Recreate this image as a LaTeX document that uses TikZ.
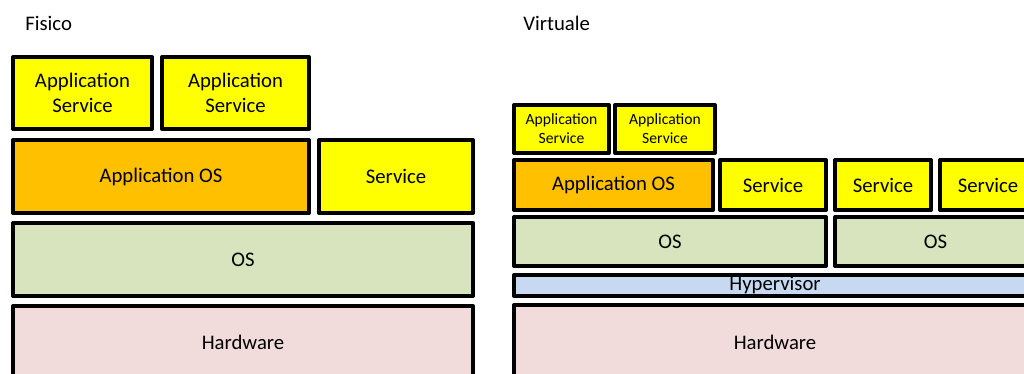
\documentclass[tikz,border=0pt]{standalone}
\usepackage{fontspec}
\setmainfont{Carlito}
\usepackage{tikz}

\definecolor{giallo}{HTML}{FFFF00}
\definecolor{arancio}{HTML}{FFC000}
\definecolor{verdeos}{HTML}{D7E4BD}
\definecolor{rosahw}{HTML}{F2DCDB}
\definecolor{azzurro}{HTML}{C6D9F1}

\begin{document}
\begin{tikzpicture}[x=0.02cm, y=-0.02cm,
  blocco/.style={draw=black, line width=2.3pt, line join=round, inner sep=0pt,
    align=center, font=\fontsize{11.8}{14.2}\selectfont},
  piccolo/.style={blocco, font=\fontsize{8.9}{10.8}\selectfont},
  titolo/.style={anchor=base west, inner sep=0pt, font=\fontsize{11.8}{14.2}\selectfont}]
\useasboundingbox (0,0) rectangle (1024,373);
\clip (0,0) rectangle (1024,373);

% Fisico
\node[titolo] (fisico) at (25,30) {Fisico};
\node[blocco, fill=giallo, minimum width=2.78cm, minimum height=1.44cm] (as1) at (82.5,93) {Application\\Service};
\node[blocco, fill=giallo, minimum width=2.94cm, minimum height=1.44cm] (as2) at (235.5,93) {Application\\Service};
\node[blocco, fill=arancio, minimum width=5.92cm, minimum height=1.46cm] (appos) at (161,176.5) {Application OS};
\node[blocco, fill=giallo, minimum width=3.08cm, minimum height=1.46cm] (srv) at (396,176.5) {Service};
\node[blocco, fill=verdeos, minimum width=9.2cm, minimum height=1.46cm] (os) at (243,259.5) {OS};
\node[blocco, fill=rosahw, minimum width=9.2cm, minimum height=1.46cm] (hw) at (243,342.5) {Hardware};

% Virtuale
\node[titolo] (virtuale) at (523,30) {Virtuale};
\node[piccolo, fill=giallo, minimum width=1.9cm, minimum height=0.96cm] (vas1) at (561.5,129) {Application\\Service};
\node[piccolo, fill=giallo, minimum width=2.0cm, minimum height=0.96cm] (vas2) at (665,129) {Application\\Service};
\node[blocco, fill=arancio, minimum width=3.98cm, minimum height=1.0cm] (vappos) at (613.5,185) {Application OS};
\node[blocco, fill=giallo, minimum width=2.12cm, minimum height=1.0cm] (vsrv1) at (773,185) {Service};
\node[blocco, fill=giallo, minimum width=1.92cm, minimum height=1.0cm] (vsrv2) at (883,185) {Service};
\node[blocco, fill=giallo, minimum width=1.92cm, minimum height=1.0cm] (vsrv3) at (988,185) {Service};
\node[blocco, fill=verdeos, minimum width=6.24cm, minimum height=0.98cm] (vos1) at (670,241.5) {OS};
\node[blocco, fill=verdeos, minimum width=4.02cm, minimum height=0.98cm] (vos2) at (935.5,241.5) {OS};
\node[blocco, fill=azzurro, minimum width=10.44cm, minimum height=0.42cm] (hyp) at (775,285.5) {Hypervisor};
\node[blocco, fill=rosahw, minimum width=10.44cm, minimum height=1.48cm] (vhw) at (775,342) {Hardware};
\end{tikzpicture}
\end{document}
